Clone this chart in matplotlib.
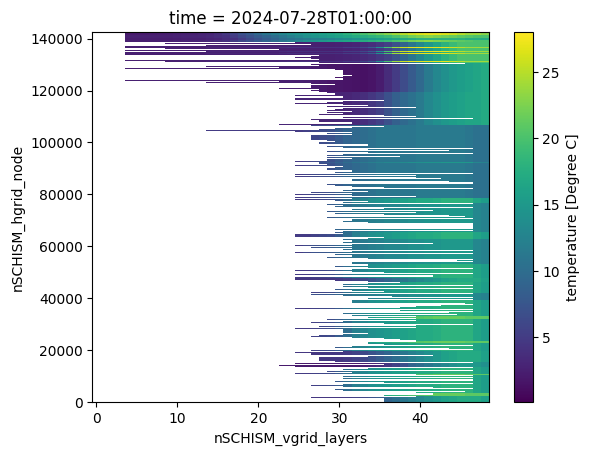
import matplotlib
matplotlib.use("Agg")
import matplotlib.pyplot as plt
import numpy as np

# temperature profiles, layers 4 to 48
yellow_top = [2, 2, 2, 2.1, 2.2, 2.3, 2.4, 2.5, 2.6, 2.8,
              3, 3.5, 4.5, 5.5, 7, 8, 9.5, 11, 12, 13,
              14, 14.5, 15, 15.5, 16, 16.5, 17, 18, 19, 20,
              21, 22, 23, 24, 25, 26, 26.5, 27, 27, 26.5,
              26, 25, 24, 24, 23]
warm_top = [2.5, 2.5, 2.5, 2.5, 2.6, 2.6, 2.7, 2.8, 2.9, 3,
            3.2, 3.6, 4, 5, 6, 7, 8, 9, 10, 11,
            12, 13, 14, 14.5, 15, 15.5, 16, 16.5, 17, 17.5,
            18, 18.5, 19, 20, 21, 22, 22.5, 23, 22.5, 22,
            21.5, 21, 20.5, 20, 20]
dark_top = [2.2, 2.2, 2.2, 2.2, 2.2, 2.2, 2.3, 2.4, 2.5, 2.6,
            2.8, 3, 3.5, 4, 5, 6, 7, 8, 9, 10,
            10.5, 11, 11.5, 12, 12, 12.5, 13, 13.5, 14, 14.5,
            15, 15.5, 16, 16.5, 17, 17.5, 18, 18, 18, 18,
            18, 18, 17.5, 17.5, 17]
cool_top = [2.5, 2.5, 2.5, 2.5, 2.5, 2.5, 2.5, 2.5, 2.5, 2.5,
            2.5, 2.5, 2.5, 2.5, 2.5, 2.5, 2.5, 2.5, 2.5, 2.5,
            2.5, 2.5, 2.5, 2.5, 2.6, 2.6, 2.7, 2.8, 3, 3.3,
            3.8, 4.5, 5.5, 7, 9, 11, 13, 15, 16.5, 18,
            19, 20, 20, 20, 20]
hot_line = [2.5, 2.5, 2.5, 2.5, 2.5, 2.5, 2.5, 2.5, 2.5, 2.5,
            3, 3, 3, 3, 3, 3, 3, 3, 3, 3.5,
            4, 4, 4, 4, 4, 4, 4, 5, 5, 6,
            8, 14, 20, 24, 26, 27, 27, 27, 27, 27,
            26, 25, 24, 24, 24]
very_cold = [2.5, 2.5, 2.5, 2.5, 2.5, 2.5, 2.5, 2.5, 2.5, 2.5,
             2.5, 2.5, 2.5, 2.5, 2.5, 2.5, 2.5, 2.5, 2.5, 2.5,
             2.5, 2.5, 2.4, 2.2, 2, 1.8, 1.7, 1.6, 1.5, 1.4,
             1.6, 2.2, 3.5, 5, 6.5, 8, 9.5, 11.5, 13, 14,
             15, 15.5, 16, 16.5, 17]
mid_cold = [3, 3, 3, 3, 3, 3, 3, 3, 3, 3,
            3, 3, 3, 3, 3, 3, 3, 3, 3, 3,
            3, 3, 3, 3, 3, 3, 3, 3, 3.3, 3.8,
            4.5, 5.5, 7, 8.5, 9.5, 10.5, 11.5, 13, 14, 15,
            15.5, 16, 16.5, 16.5, 17]
teal_flat = [5, 5, 5, 5, 5, 5, 5, 5, 5, 5,
             5, 5, 5, 5, 5, 5, 5, 5, 5, 5,
             5, 5, 5.5, 6, 6.5, 7, 8, 9, 9.5, 10,
             10.5, 11, 11, 11, 11, 11, 11.5, 11.5, 11.5, 11.5,
             11.5, 11.5, 11, 10.5, 10.5]
teal_mid = [5, 5, 5, 5, 5, 5, 5, 5, 5, 5,
            5, 5, 5, 5, 5, 5, 5, 5, 5, 5,
            5, 5, 6, 7, 7.5, 8, 9, 10, 11, 11.5,
            12, 12.5, 13, 13, 13.5, 14, 14, 14.5, 14.5, 15,
            15, 15, 15, 13, 12.5]
green = [5, 5, 5, 5, 5, 5, 5, 5, 5, 5,
         5, 5, 5, 5, 5, 5, 5, 5, 5, 5,
         5, 5, 5, 5.5, 6, 6.5, 8, 10, 12, 13,
         14, 14.5, 15, 15.5, 16, 16.5, 17, 17, 17.5, 18,
         18, 18, 18, 16.5, 15.5]
hot_green = [5, 5, 5, 5, 5, 5, 5, 5, 5, 5,
             5, 5, 5, 5, 5, 5, 5, 5, 5, 5,
             5, 5, 5, 6, 7, 8, 10, 12, 14, 15,
             16, 17, 17.5, 18, 19, 20, 20.5, 21, 21.5, 21.5,
             21.5, 21.5, 21, 21, 21]
deep_blue = [5, 5, 5, 5, 5, 5, 5, 5, 5, 5,
             5, 5, 5, 5, 5, 5, 5, 5, 5, 5,
             4.5, 4.5, 4.5, 4.5, 4.5, 4.5, 4.5, 5, 5.5, 6,
             7, 8, 9, 10, 11, 12, 13, 14, 15, 16,
             16.5, 17, 17, 17, 16]
purple_low = [2, 2, 2, 2, 2, 2, 2, 2, 2, 2,
              2, 2, 2, 2, 2, 2, 2, 2, 2, 2,
              2, 2, 2, 2, 2, 2, 2, 2, 2, 2.5,
              3, 3.5, 4.5, 5.5, 7, 9, 10, 11, 12, 13,
              14, 15, 15, 15, 14]

profiles = {"Y": yellow_top, "W": warm_top, "k": dark_top, "c": cool_top, "h": hot_line, "V": very_cold,
            "m": mid_cold, "t": teal_flat, "T": teal_mid, "g": green, "G": hot_green, "d": deep_blue,
            "p": purple_low}

# first wet layer of each row, top to bottom
first_layer = [4] * 10 + [
    25, 9, 27, 14, 4, 4, 9, 23, 4, 14, 4, 4, 4, 28, 27, 25, 27, 28, 4, 9, 28, 46, 27, 28, 14, 23, 4, 30,
    31, 31, 31, 31, 31, 32, 31, 30, 31, 31, 4, 23, 14, 27, 30, 27, 27, 27, 23, 28, 27, 28, 29, 30, 30,
    25, 31, 31, 25, 25, 36, 31, 29, 25, 31, 34, 29, 40, 31, 30, 29, 32, 29, 31, 28, 36, 40, 31, 47, 27,
    28, 28, 32, 32, 23, 27, 36, 32, 30, 28, 14, 25, 32, 29, 32, 27, 27, 27, 27, 27, 29, 30, 28, 28, 34,
    34, 29, 31, 47, 34, 44, 29, 34, 47,
    # middle block
    31, 29, 38, 29, 32, 29, 29, 25, 28, 28, 29, 25, 31, 30, 29, 29, 32, 32, 30, 47, 25, 40, 25, 40,
    43, 32, 32, 44, 47, 47, 29, 30, 32, 36, 47, 32, 31, 34, 27, 32, 25, 32, 40, 25, 32, 25, 30, 34,
    31, 47, 29, 31, 30, 47, 36, 32, 42, 29, 40, 30, 36, 44, 46, 29, 47, 32, 32, 31, 34, 47, 47, 47,
    47, 47, 47, 30, 47, 31, 30, 31, 25, 25, 25, 36, 34, 31, 32, 32, 31, 42, 32, 25, 32, 27, 32, 31,
    47, 32, 25, 47, 30, 32, 32, 29, 34, 47, 45, 47, 32, 32, 34, 34, 30, 34, 47, 32, 25, 32, 36, 47,
    # lower block
    25, 42, 42, 25, 25, 25, 30, 34, 38, 34, 31, 47, 31, 34, 47, 30, 32, 36, 27, 47, 27, 31, 37, 47,
    34, 47, 32, 32, 32, 46, 47, 43, 40, 38, 25, 47, 38, 47, 44, 31, 45, 32, 40, 34, 40, 29, 40, 31,
    27, 36, 47, 40, 28, 40, 47, 25, 31, 31, 31, 31, 34, 31, 28, 27, 32, 36, 38, 40, 40, 34, 34, 36,
    47, 32, 30, 44, 47, 27, 31, 25, 27, 27, 42, 34, 28, 28, 28, 28, 30, 47, 25, 36, 23, 25, 47, 34,
    31, 47, 29, 32, 25, 40, 47, 31, 47, 31, 47, 47, 30, 36, 47, 31, 27, 31, 42, 47, 30, 31, 46, 40,
    42, 42, 36, 40, 27, 36, 36, 36, 36]

# node where each temperature band starts, going down, and its profile
band_top = [142400, 141300, 140000, 139500, 138600, 136800, 136400, 135200, 134800, 134500, 134100,
            131400, 131000, 130500, 119350, 106600, 92500, 92100, 78500, 76600, 65800, 63100,
            53500, 52000, 48100, 46600, 42350, 39600, 37000, 33500, 32300, 29600, 23500, 22700,
            19600, 15400, 13500, 10800, 10400, 3500, 2300]
band_name = ["Y", "W", "k", "W", "c", "h", "c", "h", "c", "h", "c",
             "h", "c", "V", "m", "t", "T", "t", "g", "T", "g", "T",
             "g", "g", "d", "g", "T", "g", "g", "G", "g", "g", "G", "g",
             "d", "p", "g", "G", "g", "G", "d"]

layers = np.arange(49)
n_rows = len(first_layer)
y_max = 142400
y_edges = np.linspace(y_max, 0, n_rows + 1)
temperature = np.full((n_rows, layers.size), np.nan)
for i in range(n_rows):
    center = (y_edges[i] + y_edges[i + 1]) / 2
    band = [j for j in range(len(band_top)) if band_top[j] >= center][-1]
    temperature[i, 4:] = profiles[band_name[band]]
    temperature[i, :first_layer[i]] = np.nan

fig = plt.figure(figsize=(5.89, 4.55), dpi=100)
ax = fig.add_axes([92.3 / 589, 1 - 402.3 / 455, 397 / 589, 370 / 455])
cax = fig.add_axes([514.4 / 589, 1 - 402.3 / 455, 18.3 / 589, 370 / 455])

x_edges = np.arange(50) - 0.5
mesh = ax.pcolormesh(x_edges, y_edges, temperature, cmap="viridis", vmin=0.1, vmax=28)

ax.set_xlim(-0.5, 48.5)
ax.set_ylim(0, y_max)
ax.set_xticks([0, 10, 20, 30, 40])
ax.set_yticks(np.arange(0, 140001, 20000))
ax.set_xlabel("nSCHISM_vgrid_layers")
ax.set_ylabel("nSCHISM_hgrid_node")
ax.set_title("time = 2024-07-28T01:00:00")

cb = fig.colorbar(mesh, cax=cax)
cb.set_ticks([5, 10, 15, 20, 25])
cb.set_label("temperature [Degree C]")

fig.savefig("out.png", dpi=100)
